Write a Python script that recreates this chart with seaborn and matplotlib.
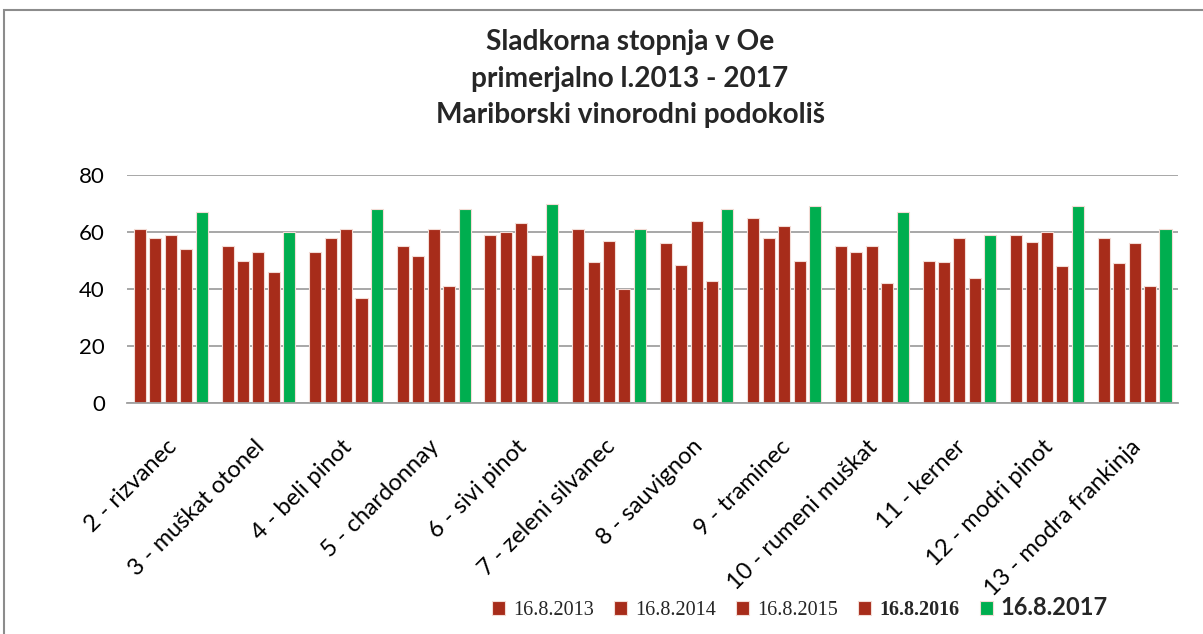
# Sladkorna stopnja v Oe - grouped bar chart, Mariborski vinorodni podokoliš
import matplotlib
matplotlib.use('Agg')
import matplotlib.pyplot as plt
import pandas as pd
import seaborn as sns
from matplotlib.patches import Rectangle
from matplotlib.transforms import ScaledTranslation

# Categories (varieties) and values per sampling date
varieties = ['2 - rizvanec', '3 - muškat otonel', '4 - beli pinot', '5 - chardonnay',
             '6 - sivi pinot', '7 - zeleni silvanec', '8 - sauvignon', '9 - traminec',
             '10 - rumeni muškat', '11 - kerner', '12 - modri pinot', '13 - modra frankinja']
dates = ['16.8.2013', '16.8.2014', '16.8.2015', '16.8.2016', '16.8.2017']

v2013 = [61, 55, 53, 55, 59, 61, 56, 65, 55, 50, 59, 58]
v2014 = [58, 50, 58, 51.5, 60, 49.5, 48.5, 58, 53, 49.5, 56.5, 49]
v2015 = [59, 53, 61, 61, 63, 57, 64, 62, 55, 58, 60, 56]
v2016 = [54, 46, 37, 41, 52, 40, 43, 50, 42, 44, 48, 41]
v2017 = [67, 60, 68, 68, 70, 61, 68, 69, 67, 59, 69, 61]

colors = ['#A72C1A', '#A72C1A', '#A72C1A', '#A72C1A', '#00AE4F']

# Long-form table for seaborn
series = [v2013, v2014, v2015, v2016, v2017]
df = pd.DataFrame({
    'variety': varieties * len(dates),
    'date': [d for d in dates for _ in varieties],
    'value': [v for s in series for v in s],
})

sns.set_style('white')
plt.rcParams['font.family'] = ['Lato', 'DejaVu Sans']

fig = plt.figure(figsize=(12.03, 6.34), dpi=100)
ax = fig.add_axes([0.1056, 0.364, 0.874, 0.360])

sns.barplot(data=df, x='variety', y='value', hue='date', hue_order=dates,
            palette=colors, width=0.88, gap=0.22, edgecolor='#F3DCD6',
            linewidth=0.8, saturation=1, legend=True, ax=ax)

# Axes styling
ax.set_ylim(0, 80)
ax.set_yticks([0, 20, 40, 60, 80])
ax.set_xlim(-0.5, len(varieties) - 0.5)
ax.yaxis.grid(True, color='#A0A0A0', linewidth=1.3)
ax.set_axisbelow(True)
for side in ['top', 'right', 'left']:
    ax.spines[side].set_visible(False)
ax.spines['bottom'].set_color('#A0A0A0')
ax.spines['bottom'].set_linewidth(1.3)
ax.tick_params(axis='both', length=0, labelsize=16, colors='#000000')
ax.tick_params(axis='y', pad=16)
ax.tick_params(axis='x', pad=20, labelsize=17)
ax.set_xlabel('')
ax.set_ylabel('')
plt.setp(ax.get_xticklabels(), rotation=45, ha='right', rotation_mode='anchor')
# nudge rotated labels down-left like the original
shift = ScaledTranslation(-0.05, -0.05, fig.dpi_scale_trans)
for lbl in ax.get_xticklabels():
    lbl.set_transform(lbl.get_transform() + shift)

# Legend at bottom with mixed fonts
handles, labels = ax.get_legend_handles_labels()
ax.get_legend().remove()
leg = fig.legend(handles, labels, loc='center', ncol=5, frameon=False,
                 bbox_to_anchor=(800 / 1203, 1 - 608 / 634),
                 handlelength=0.65, handleheight=0.65, handletextpad=0.4,
                 columnspacing=1.0, fontsize=14.5)
for i, t in enumerate(leg.get_texts()):
    if i < 4:
        t.set_family(['Liberation Serif', 'DejaVu Serif'])
        t.set_fontsize(14.5)
        if i == 3:
            t.set_fontweight('bold')
    else:
        t.set_fontsize(17)
        t.set_fontweight('bold')

# Title
fig.text(630 / 1203, 1 - 29 / 634,
         'Sladkorna stopnja v Oe\nprimerjalno l.2013 - 2017\nMariborski vinorodni podokoliš',
         ha='center', va='top', fontsize=20.2, fontweight='bold', linespacing=1.5)

# Outer chart border
fig.patches.append(Rectangle((4 / 1203, -0.05), 1.1, 1 - 10 / 634 + 0.05,
                             transform=fig.transFigure, fill=False,
                             edgecolor='#8C8C8C', linewidth=1.5))

fig.savefig('out.png', dpi=100)
